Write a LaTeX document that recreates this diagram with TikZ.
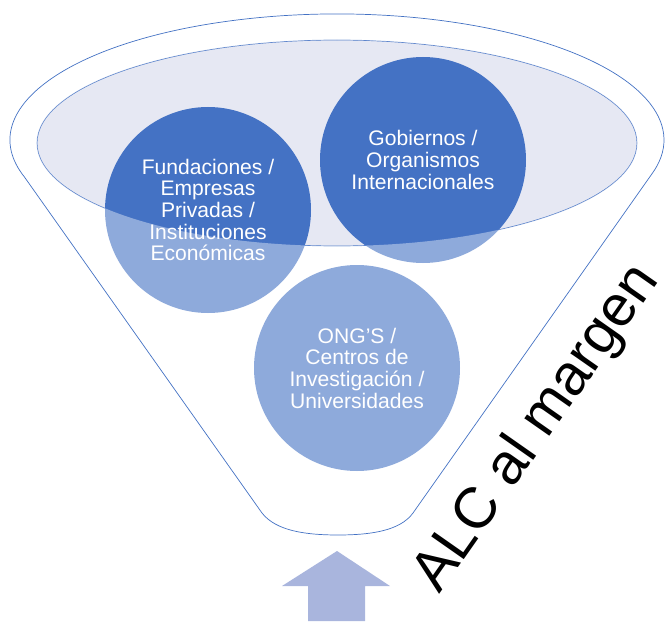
\documentclass[tikz,border=0pt]{standalone}
\usepackage{fontspec}
\setmainfont{Liberation Sans}
\usepackage{tikz}
\usetikzlibrary{arrows}

\definecolor{azul}{HTML}{4472C4}
\definecolor{lavanda}{HTML}{E6E8F3}
\definecolor{flecha}{HTML}{A9B5DD}

\newcommand{\embudo}{(24.3,444.2) arc[start angle=197, end angle=-16, x radius=327, y radius=126]
  -- (413,108) .. controls (400,90) and (370,86) .. (338,86)
  .. controls (306,86) and (276,90) .. (262,108) -- cycle}

\begin{document}
\begin{tikzpicture}[x=0.025cm,y=0.025cm]
  \useasboundingbox (0,0) rectangle (672,621);
  \tikzstyle{borde}=[draw=azul,line width=0.5pt]
  \tikzstyle{circulo}=[circle,fill=azul,minimum size=206*0.025cm,inner sep=0pt,
                       text=white,align=center,font=\fontsize{15}{15.4}\selectfont]

  \fill[white] \embudo;
  \filldraw[borde,fill=lavanda] (337,478) ellipse [x radius=300, y radius=103];

  \node[circulo] (fund) at (208,411) {Fundaciones /\\Empresas\\Privadas /\\Instituciones\\Económicas};
  \node[circulo] (gob) at (423,461) {Gobiernos /\\Organismos\\Internacionales};
  \node[circulo] (ong) at (357,253) {ONG'S /\\Centros de\\Investigación /\\Universidades};

  % lo que queda fuera de la elipse se ve mas claro
  \fill[white,fill opacity=0.4,even odd rule] \embudo (337,478) ellipse [x radius=300, y radius=103];
  \draw[borde] \embudo;

  \fill[flecha] (337,70) -- (390,35) -- (365,35) -- (365,0) -- (308,0) -- (308,35) -- (282,35) -- cycle;

  \node[rotate=55,anchor=base west,font=\fontsize{41}{46}\selectfont,inner sep=0pt] (alc) at (439,26) {ALC al margen};
\end{tikzpicture}
\end{document}
